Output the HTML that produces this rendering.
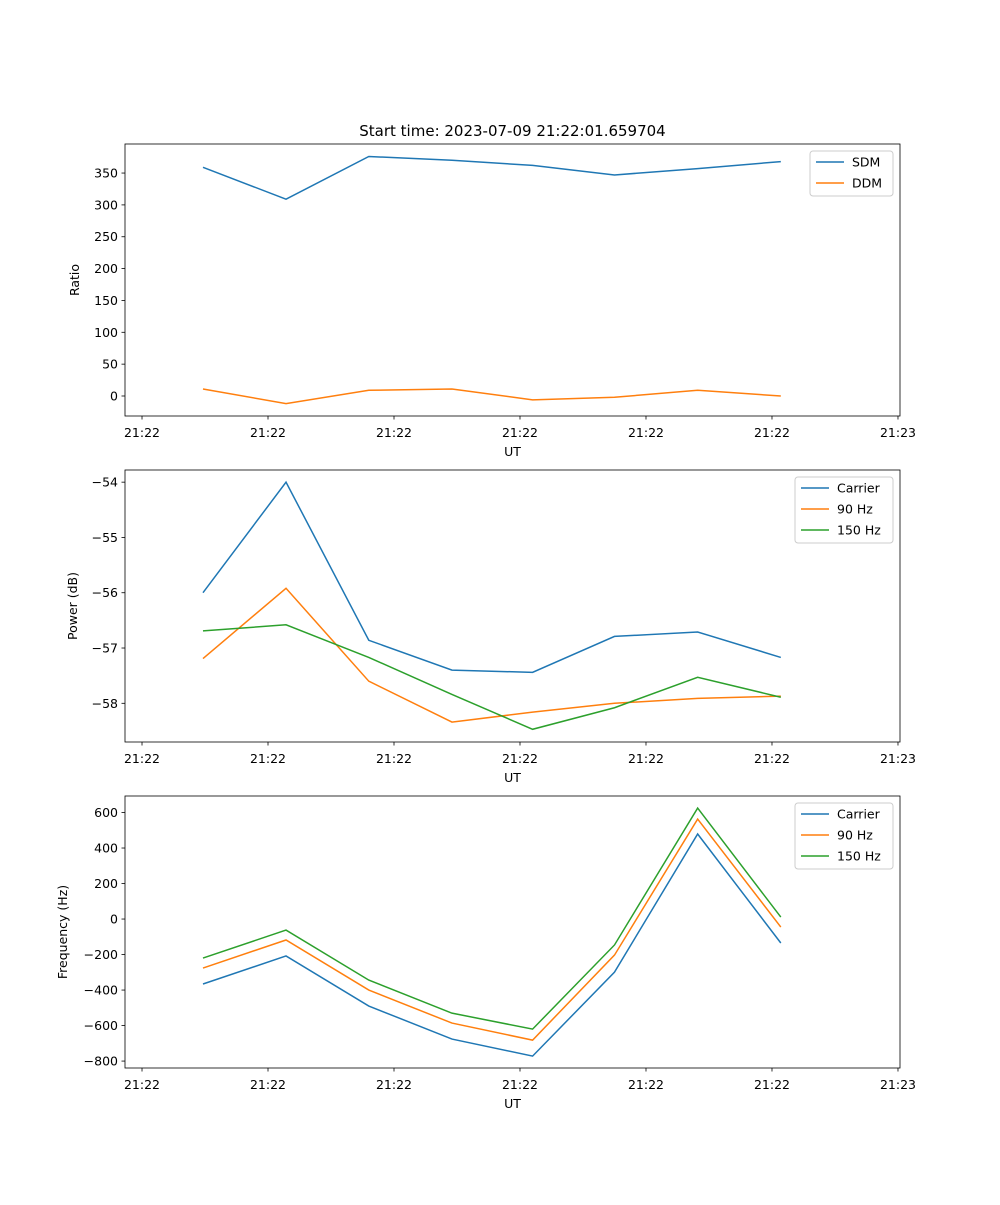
<!DOCTYPE html>
<html><head><meta charset="utf-8"><style>
body{margin:0;background:#fff}
svg text{font-family:"DejaVu Sans","Liberation Sans",sans-serif;fill:#000}
</style></head><body>
<svg id="fig" width="1000" height="1200" xmlns="http://www.w3.org/2000/svg"></svg>
<script>
const times=[4.84,11.43,18.0,24.6,31.0,37.5,44.1,50.7];
const xTicks=[0,10,20,30,40,50,60];
const xTickLabels=["21:22","21:22","21:22","21:22","21:22","21:22","21:23"];
const sdm=[359,309,376,370,362,347,357,368];
const ddm=[11,-12,9,11,-6,-2,9,0];
const pCarrier=[-56.0,-54.0,-56.86,-57.40,-57.44,-56.79,-56.71,-57.17];
const p90=[-57.19,-55.92,-57.60,-58.34,-58.16,-58.0,-57.91,-57.87];
const p150=[-56.69,-56.58,-57.17,-57.84,-58.47,-58.08,-57.53,-57.89];
const fCarrier=[-366,-208,-490,-676,-772,-299,479,-135];
const f90=[-276,-118,-400,-586,-682,-203,563,-45];
const f150=[-220,-62,-344,-530,-620,-146,625,11];
const ratioTicks=[0,50,100,150,200,250,300,350];
const powerTicks=[-54,-55,-56,-57,-58];
const freqTicks=[-800,-600,-400,-200,0,200,400,600];

const NS="http://www.w3.org/2000/svg";
const svg=document.getElementById('fig');
function mk(tag,attrs,parent){const e=document.createElementNS(NS,tag);for(const k in attrs)e.setAttribute(k,attrs[k]);(parent||svg).appendChild(e);return e;}
const L=125,R=900;
const xs=t=>L+(t-(-1.35))/(60.16-(-1.35))*(R-L);
const colors=["#1f77b4","#ff7f0e","#2ca02c"];

function panel(name,top,bot,ymin,ymax,yticks,ylabel,labelX,series,names,legendW,tickFmt){
  const g=mk('g',{});
  
  
  const ys=v=>bot-(v-ymin)/(ymax-ymin)*(bot-top);
  series.forEach((s,i)=>{
    const p=mk('polyline',{points:s.map((v,j)=>xs(times[j])+','+ys(v)).join(' '),fill:'none',stroke:colors[i],'stroke-width':1.5},g);
    
    
  });
  const fr=mk('rect',{x:L,y:top,width:R-L,height:bot-top,fill:'none',stroke:'#000','stroke-width':0.8},g);
  
  
  xTicks.forEach((t,i)=>{
    const x=xs(t);
    mk('line',{x1:x,x2:x,y1:bot,y2:bot+3.5,stroke:'#000','stroke-width':0.8},g);
    const tx=mk('text',{x:x,y:bot+21,'text-anchor':'middle','font-size':12.5},g);tx.textContent=xTickLabels[i];
    
    
  });
  yticks.forEach(v=>{
    const y=ys(v);
    mk('line',{x1:L-3.5,x2:L,y1:y,y2:y,stroke:'#000','stroke-width':0.8},g);
    const tx=mk('text',{x:L-7,y:y+4.5,'text-anchor':'end','font-size':12.5},g);tx.textContent=tickFmt(v);
    
    
  });
  const xl=mk('text',{x:(L+R)/2,y:bot+40,'text-anchor':'middle','font-size':12.5},g);xl.textContent='UT';
  
  
  const yl=mk('text',{x:0,y:0,'text-anchor':'middle','font-size':12.5,transform:`translate(${labelX+4},${(top+bot)/2}) rotate(-90)`},g);yl.textContent=ylabel;
  
  
  const lx=R-7-legendW, ly=top+7, lh=3+21*names.length;
  const lg=mk('g',{},g);
  
  
  mk('rect',{x:lx,y:ly,width:legendW,height:lh,rx:3,fill:'#fff','fill-opacity':0.8,stroke:'#ccc'},lg);
  names.forEach((n,i)=>{
    const y=ly+11+21*i;
    mk('line',{x1:lx+6,x2:lx+34,y1:y,y2:y,stroke:colors[i],'stroke-width':1.5},lg);
    const t=mk('text',{x:lx+42,y:y+4.5,'font-size':12.5},lg);t.textContent=n;
    
    
  });
}
const ttl=mk('text',{x:(L+R)/2,y:136,'text-anchor':'middle','font-size':15});ttl.textContent='Start time: 2023-07-09 21:22:01.659704';


panel('ratio',144,416,-31.4,395.6,ratioTicks,'Ratio',75,[sdm,ddm],['SDM','DDM'],83,v=>String(v));
panel('power',470,742,-58.70,-53.78,powerTicks,'Power (dB)',73,[pCarrier,p90,p150],['Carrier','90 Hz','150 Hz'],98,v=>'\u2212'+Math.abs(v));
panel('frequency',796,1068,-839,693,freqTicks,'Frequency (Hz)',63,[fCarrier,f90,f150],['Carrier','90 Hz','150 Hz'],98,v=>v<0?'\u2212'+Math.abs(v):String(v));
</script>
</body></html>
